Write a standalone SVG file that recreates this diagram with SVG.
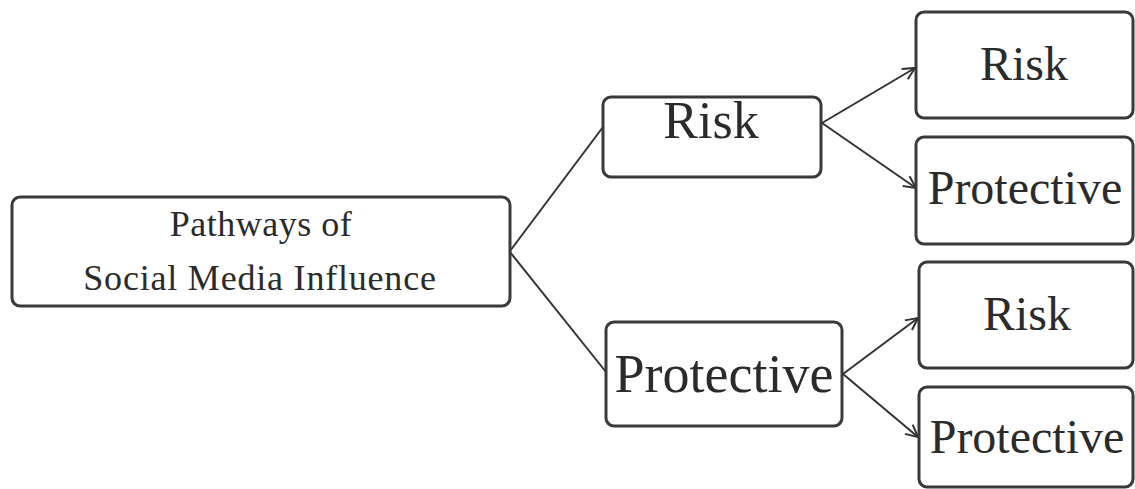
<svg xmlns="http://www.w3.org/2000/svg" width="1135" height="489" viewBox="0 0 1135 489">
<defs>
<marker id="arr" markerWidth="16" markerHeight="16" refX="13" refY="8" orient="auto" markerUnits="userSpaceOnUse">
<path d="M1,2 L13,8 L1,14" fill="none" stroke="#333" stroke-width="2"/>
</marker>
<style>
.box{fill:#fff;stroke:#3a3a3a;stroke-width:3}
.t{font-family:"Liberation Serif","Times New Roman",serif;fill:#2b2b2b;text-anchor:middle}
.c{fill:none;stroke:#333;stroke-width:2}
</style>
</defs>
<rect width="1135" height="489" fill="#fff"/>
<g id="connectors">
<line class="c" x1="510" y1="251" x2="603" y2="127"/>
<line class="c" x1="510" y1="252" x2="606" y2="372"/>
<line class="c" x1="822" y1="123" x2="915" y2="68" marker-end="url(#arr)"/>
<line class="c" x1="822" y1="123" x2="916" y2="188" marker-end="url(#arr)"/>
<line class="c" x1="843" y1="374" x2="918" y2="318" marker-end="url(#arr)"/>
<line class="c" x1="843" y1="374" x2="918" y2="437" marker-end="url(#arr)"/>
</g>
<g id="root">
<rect class="box" x="12" y="197" width="498" height="109" rx="8"/>
<text class="t" x="261" y="236" font-size="36" letter-spacing="0.5">Pathways of</text>
<text class="t" x="260" y="290" font-size="36" letter-spacing="0.8">Social Media Influence</text>
</g>
<g id="risk">
<rect class="box" x="603" y="97" width="218" height="80" rx="8"/>
<text class="t" x="711" y="138" font-size="52">Risk</text>
</g>
<g id="protective">
<rect class="box" x="606" y="322" width="236" height="104" rx="8"/>
<text class="t" x="724" y="392" font-size="54">Protective</text>
</g>
<g id="risk-risk">
<rect class="box" x="916" y="12" width="217" height="106" rx="8"/>
<text class="t" x="1024" y="80" font-size="48">Risk</text>
</g>
<g id="risk-protective">
<rect class="box" x="916" y="137" width="217" height="107" rx="8"/>
<text class="t" x="1025" y="204" font-size="48">Protective</text>
</g>
<g id="protective-risk">
<rect class="box" x="919" y="262" width="214" height="106" rx="8"/>
<text class="t" x="1027" y="330" font-size="48">Risk</text>
</g>
<g id="protective-protective">
<rect class="box" x="919" y="387" width="214" height="100" rx="8"/>
<text class="t" x="1027" y="453" font-size="48">Protective</text>
</g>
</svg>
